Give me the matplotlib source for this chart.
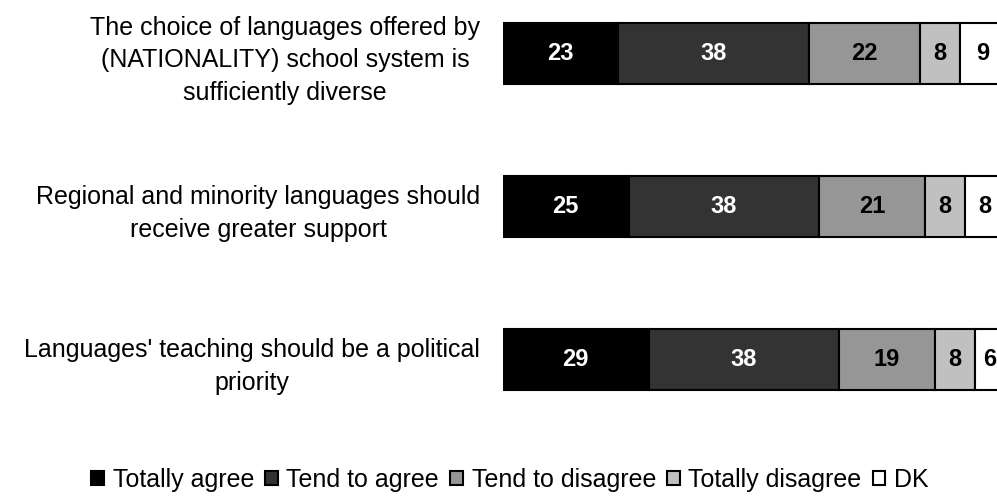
import matplotlib.pyplot as plt

plt.rcParams['font.family'] = ['Liberation Sans', 'DejaVu Sans']

categories = [
    'The choice of languages offered by\n(NATIONALITY) school system is\nsufficiently diverse',
    'Regional and minority languages should\nreceive greater support',
    "Languages' teaching should be a political\npriority",
]
series_names = ['Totally agree', 'Tend to agree', 'Tend to disagree', 'Totally disagree', 'DK']
values = [
    [23, 25, 29],  # Totally agree
    [38, 38, 38],  # Tend to agree
    [22, 21, 19],  # Tend to disagree
    [8, 8, 8],     # Totally disagree
    [9, 8, 6],     # DK
]
colors = ['#000000', '#333333', '#969696', '#c0c0c0', '#ffffff']
text_colors = ['white', 'white', 'black', 'black', 'black']

fig = plt.figure(figsize=(9.97, 4.96), dpi=100)
ax = fig.add_axes([503 / 997, 1 - 440 / 496, 494 / 997, 440 / 496])

y = [0, 1, 2]
left = [0, 0, 0]
for i, name in enumerate(series_names):
    ax.barh(y, values[i], left=left, height=0.4, color=colors[i],
            edgecolor='black', linewidth=1.5, label=name)
    for j in range(len(y)):
        ax.text(left[j] + values[i][j] / 2, y[j], str(values[i][j]),
                ha='center', va='center', color=text_colors[i],
                fontsize=17, fontweight='bold')
    left = [a + b for a, b in zip(left, values[i])]

ax.set_xlim(0, 98.4)
ax.set_ylim(2 + (440 - 359.5) / 153, -53.5 / 153)
ax.set_yticks(y)
ax.set_yticklabels(categories, fontsize=18, multialignment='center',
                   linespacing=1.45)
ax.tick_params(axis='y', length=0, pad=16.5)
ax.set_xticks([])
for s in ax.spines.values():
    s.set_visible(False)

fig.legend(loc='center', bbox_to_anchor=(510 / 997, 1 - 480 / 496), ncol=5,
           frameon=False, fontsize=18, handlelength=0.5, handleheight=0.5,
           handletextpad=0.35, columnspacing=0.45, borderpad=0)

fig.savefig('out.png', dpi=100)
